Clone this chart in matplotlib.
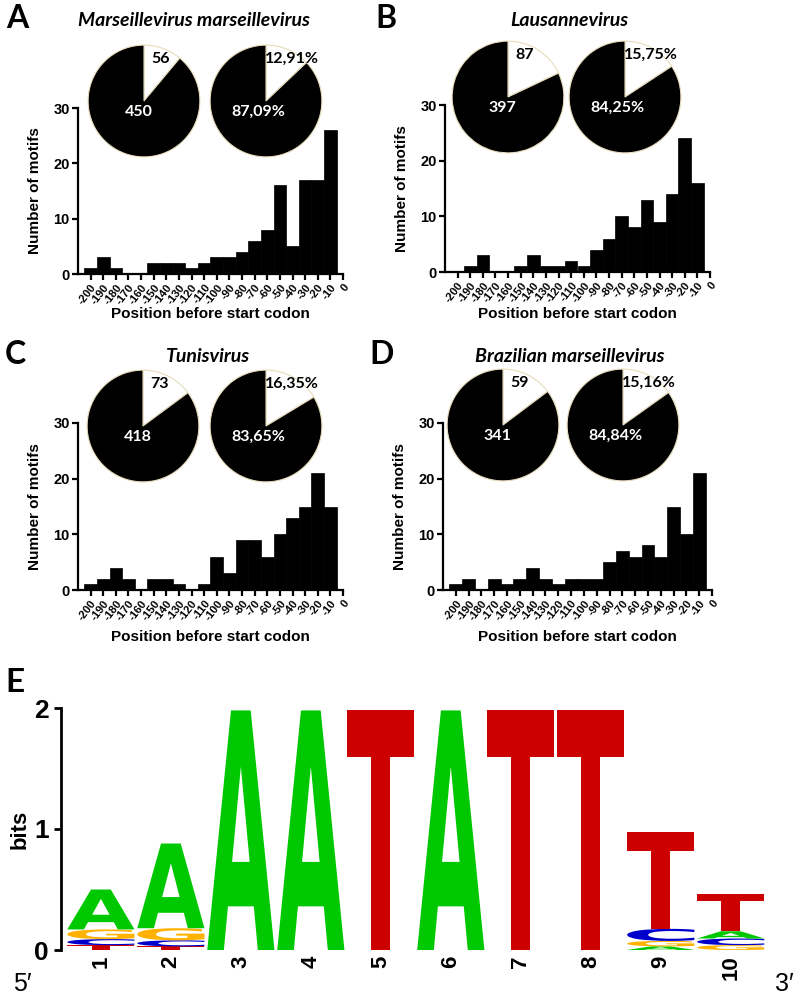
import numpy as np
import matplotlib
matplotlib.use('Agg')
import matplotlib.pyplot as plt
from matplotlib.textpath import TextPath
from matplotlib.patches import PathPatch
from matplotlib.font_manager import FontProperties
from matplotlib.transforms import Affine2D

# Histogram data (bins centred at -200 ... -10)
positions = np.arange(-200, 0, 10)
counts_a = [1, 3, 1, 0, 0, 2, 2, 2, 1, 2, 3, 3, 4, 6, 8, 16, 5, 17, 17, 26]
counts_b = [0, 1, 3, 0, 0, 1, 3, 1, 1, 2, 1, 4, 6, 10, 8, 13, 9, 14, 24, 16]
counts_c = [1, 2, 4, 2, 0, 2, 2, 1, 0, 1, 6, 3, 9, 9, 6, 10, 13, 15, 21, 15]
counts_d = [1, 2, 0, 2, 1, 2, 4, 2, 1, 2, 2, 2, 5, 7, 6, 8, 6, 15, 10, 21]

titles = ['Marseillevirus marseillevirus', 'Lausannevirus', 'Tunisvirus',
          'Brazilian marseillevirus']
letters = ['A', 'B', 'C', 'D']

# Pie data: [with motif, without motif]
pie_counts_a = [56, 450]
pie_counts_b = [87, 397]
pie_counts_c = [73, 418]
pie_counts_d = [59, 341]
pie_pct_a = [12.91, 87.09]
pie_pct_b = [15.75, 84.25]
pie_pct_c = [16.35, 83.65]
pie_pct_d = [15.16, 84.84]

# Sequence logo (bits per letter)
logo_pos = np.arange(1, 11)
logo_A = [0.33, 0.70, 1.98, 1.98, 0, 1.98, 0, 0, 0.03, 0.06]
logo_C = [0.05, 0.05, 0, 0, 0, 0, 0, 0, 0.10, 0.055]
logo_G = [0.08, 0.10, 0, 0, 0, 0, 0, 0, 0.045, 0.04]
logo_T = [0.04, 0.03, 0, 0, 1.98, 0, 1.98, 1.98, 0.80, 0.31]
logo_colors = {'A': '#00c800', 'C': '#0000cc', 'G': '#ffb300', 'T': '#cc0000'}

W, H = 800, 999
fig = plt.figure(figsize=(W / 100, H / 100), dpi=100)

ARIAL = ['Liberation Sans', 'DejaVu Sans']
CALIBRI = ['Lato', 'DejaVu Sans']
plt.rcParams['font.family'] = ARIAL


def px_axes(x0, y0, x1, y1):
    return fig.add_axes([x0 / W, 1 - y1 / H, (x1 - x0) / W, (y1 - y0) / H])


def ftext(x, y, s, **kw):
    fig.text(x / W, 1 - y / H, s, **kw)


def fmt_pct(v):
    return f'{v:.2f}'.replace('.', ',') + '%'


# layout of the four histogram panels (pixels)
hist_boxes = [(78, 108, 343, 274), (445, 105, 710, 272),
              (78, 423, 343, 590), (443, 423, 712, 590)]
pie_centers = [((144, 101), (266, 101)), ((508, 97), (625, 97)),
               ((143, 426), (266, 426)), ((503, 425), (623, 425))]
title_xy = [(194, 20), (569, 20), (208, 357), (570, 357)]
letter_xy = [(17, 19), (386, 19), (15, 355), (382, 355)]
xlabel_y = [314, 314, 637, 637]

all_counts = [counts_a, counts_b, counts_c, counts_d]
all_pie_counts = [pie_counts_a, pie_counts_b, pie_counts_c, pie_counts_d]
all_pie_pct = [pie_pct_a, pie_pct_b, pie_pct_c, pie_pct_d]

for i in range(4):
    x0, y0, x1, y1 = hist_boxes[i]
    ax = px_axes(x0, y0, x1, y1)
    ax.bar(positions, all_counts[i], width=10, color='black',
           edgecolor='black', linewidth=0.5)
    ax.set_xlim(-210, 0)
    ax.set_ylim(0, 30)
    ax.spines['top'].set_visible(False)
    ax.spines['right'].set_visible(False)
    for s in ['left', 'bottom']:
        ax.spines[s].set_linewidth(1.6)
    ax.spines['left'].set_bounds(0, 30)
    ax.set_yticks([0, 10, 20, 30])
    ax.set_yticklabels(['0', '10', '20', '30'], family=ARIAL,
                       fontweight='bold', fontsize=10.5)
    xt = np.arange(-200, 1, 10)
    ax.set_xticks(xt)
    ax.set_xticklabels([str(v) for v in xt], family=ARIAL, fontweight='bold',
                       fontsize=8, rotation=52, ha='right',
                       rotation_mode='anchor')
    ax.tick_params(width=1.6, length=4, pad=2)
    ax.set_ylabel('Number of motifs', family=ARIAL, fontweight='bold',
                  fontsize=11)
    ax.yaxis.set_label_coords(-36 / (x1 - x0), 0.5)
    ftext((x0 + x1) / 2, xlabel_y[i], 'Position before start codon',
          family=ARIAL, fontweight='bold', fontsize=11,
          ha='center', va='center')

    # pies
    vals_n = all_pie_counts[i]
    vals_p = all_pie_pct[i]
    for j, (cx, cy) in enumerate(pie_centers[i]):
        r = 57
        pax = px_axes(cx - r, cy - r, cx + r, cy + r)
        vals = vals_n if j == 0 else vals_p
        pax.pie(vals, colors=['white', 'black'], startangle=90,
                counterclock=False, radius=1,
                wedgeprops=dict(edgecolor='#e6dcbc', linewidth=0.8))
        pax.set_xlim(-1.02, 1.02)
        pax.set_ylim(-1.02, 1.02)
        pax.set_aspect('equal')
        pax.axis('off')
        if j == 0:
            small, big = str(vals[0]), str(vals[1])
            sx, bx = 0.29, -0.1
        else:
            small, big = fmt_pct(vals[0]), fmt_pct(vals[1])
            sx, bx = 0.47, -0.14
        pax.text(sx, 0.76, small, ha='center', va='center', family=CALIBRI,
                 fontweight='bold', fontsize=11.5, color='black')
        pax.text(bx, -0.19, big, ha='center', va='center', family=CALIBRI,
                 fontweight='bold', fontsize=11.5, color='white')

    tx, ty = title_xy[i]
    ftext(tx, ty, titles[i], family=CALIBRI, fontweight='bold',
          style='italic', fontsize=14, ha='center', va='center')
    lx, ly = letter_xy[i]
    ftext(lx, ly, letters[i], family=CALIBRI, fontweight='bold',
          fontsize=23, ha='center', va='center')

# ---- Panel E: sequence logo ----
logo_fp = FontProperties(family='DejaVu Sans', weight='bold')


def draw_letter(ax, ch, xc, ybot, h, width=0.96):
    tp = TextPath((0, 0), ch, size=1, prop=logo_fp)
    bb = tp.get_extents()
    tr = (Affine2D().translate(-bb.x0, -bb.y0)
          .scale(width / bb.width, h / bb.height)
          .translate(xc - width / 2, ybot))
    ax.add_patch(PathPatch(tr.transform_path(tp), facecolor=logo_colors[ch],
                           edgecolor='none'))


axe = px_axes(61, 708, 800, 950)
axe.set_xlim(0.43, 10.99)
axe.set_ylim(0, 2)
for k, p in enumerate(logo_pos):
    stack = sorted([('A', logo_A[k]), ('C', logo_C[k]), ('G', logo_G[k]),
                    ('T', logo_T[k])], key=lambda t: t[1])
    ybot = 0
    for ch, h in stack:
        if h > 0:
            draw_letter(axe, ch, p, ybot, h)
            ybot += h

for s in ['top', 'right', 'bottom']:
    axe.spines[s].set_visible(False)
axe.spines['left'].set_linewidth(2)
axe.set_yticks([0, 1, 2])
axe.set_yticklabels(['0', '1', '2'], family=ARIAL, fontweight='bold',
                    fontsize=19)
axe.tick_params(axis='y', width=2, length=5, pad=4)
axe.set_xticks(logo_pos)
axe.set_xticklabels([str(v) for v in logo_pos], family=ARIAL,
                    fontweight='bold', fontsize=16, rotation=90)
axe.tick_params(axis='x', length=0, pad=4)
ftext(20, 829, 'bits', family=ARIAL, fontweight='bold', fontsize=16,
      rotation=90, ha='center', va='center')
ftext(22, 984, '5\u2032', family=ARIAL, fontsize=18, ha='center', va='center')
ftext(784, 984, '3\u2032', family=ARIAL, fontsize=18, ha='center', va='center')
ftext(15, 682, 'E', family=CALIBRI, fontweight='bold', fontsize=24,
      ha='center', va='center')

fig.savefig('out.png', dpi=100)
